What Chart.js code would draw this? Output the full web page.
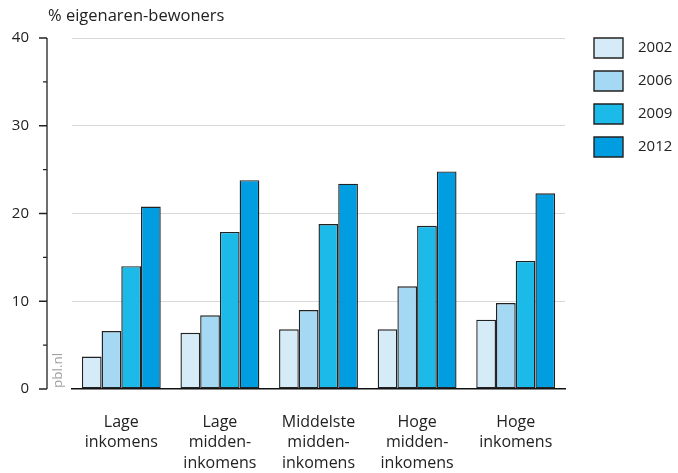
<!DOCTYPE html>
<html>
<head>
<meta charset="utf-8">
<script src="https://cdn.jsdelivr.net/npm/chart.js@4"></script>
<style>
  html, body { margin: 0; padding: 0; background: #fff; }
  #box { width: 678px; height: 473px; }
</style>
</head>
<body>
<div id="box"><canvas id="myChart"></canvas></div>
<script>
const categories = [
  ["Lage", "inkomens"],
  ["Lage", "midden-", "inkomens"],
  ["Middelste", "midden-", "inkomens"],
  ["Hoge", "midden-", "inkomens"],
  ["Hoge", "inkomens"],
];
const years = ["2002", "2006", "2009", "2012"];
const values2002 = [3.7, 6.4, 6.8, 6.8, 7.9];
const values2006 = [6.6, 8.4, 9.0, 11.7, 9.8];
const values2009 = [14.0, 17.9, 18.8, 18.6, 14.6];
const values2012 = [20.8, 23.8, 23.4, 24.8, 22.3];
const yTicks = [0, 10, 20, 30, 40];
const yTitle = "% eigenaren-bewoners";

const colors = ["#d5ecf8", "#a5d9f3", "#1bbae8", "#009de0"];
const allValues = [values2002, values2006, values2009, values2012];
const fontFamily = "'Open Sans', sans-serif";

// y axis line with major/minor ticks sits left of the plot, plus the title and pbl.nl
const extras = {
  id: "extras",
  beforeLayout(chart) {
    const lg = chart.legend;
    if (lg && !lg._fixed) {
      const fit = lg.fit;
      lg.fit = function () {
        fit.call(this);
        this.width = 113;
      };
      lg._fixed = true;
    }
  },
  afterLayout(chart) {
    chart.legend.left += 16;
    chart.legend.top -= 13;
  },
  afterDraw(chart) {
    const ctx = chart.ctx;
    const y = chart.scales.y;
    const ax = 47;
    ctx.save();
    ctx.strokeStyle = "#222";
    ctx.lineWidth = 1.3;
    ctx.beginPath();
    ctx.moveTo(ax, y.getPixelForValue(40));
    ctx.lineTo(ax, y.getPixelForValue(0));
    for (let v = 0; v <= 40; v += 5) {
      const py = y.getPixelForValue(v);
      ctx.moveTo(ax, py);
      ctx.lineTo(v % 10 === 0 ? ax - 8 : ax - 4, py);
    }
    ctx.stroke();

    ctx.fillStyle = "#222";
    ctx.font = "16.5px " + fontFamily;
    ctx.textAlign = "left";
    ctx.textBaseline = "alphabetic";
    ctx.fillText(yTitle, 48, 21);

    ctx.translate(62, y.getPixelForValue(0) - 1);
    ctx.rotate(-Math.PI / 2);
    ctx.fillStyle = "#a0a0a0";
    ctx.font = "13.5px " + fontFamily;
    ctx.fillText("pbl.nl", 0, 0);
    ctx.restore();
  },
};

new Chart(document.getElementById("myChart"), {
  type: "bar",
  data: {
    labels: categories,
    datasets: years.map((yr, i) => ({
      label: yr,
      data: allValues[i],
      backgroundColor: colors[i],
      borderColor: "#222",
      borderWidth: 1.4,
      borderSkipped: false,
      categoryPercentage: 0.8,
      barPercentage: 1,
    })),
  },
  options: {
    responsive: true,
    maintainAspectRatio: false,
    animation: false,
    layout: { padding: { top: 38, right: 0, bottom: 0, left: 0 } },
    plugins: {
      legend: {
        position: "right",
        align: "start",
        labels: {
          boxWidth: 29,
          boxHeight: 20,
          padding: 13,
          color: "#222",
          font: { family: fontFamily, size: 15 },
          generateLabels(chart) {
            const items = Chart.defaults.plugins.legend.labels.generateLabels(chart);
            items.forEach((it) => { it.text = "\u2002" + it.text; });
            return items;
          },
        },
      },
      tooltip: { enabled: false },
    },
    scales: {
      x: {
        grid: { display: false },
        border: { display: true, color: "#111", width: 1.5 },
        ticks: {
          color: "#222",
          padding: 15,
          maxRotation: 0,
          autoSkip: false,
          font: { family: fontFamily, size: 16, lineHeight: 1.28 },
        },
        afterFit(scale) {
          scale.height = 84;
        },
      },
      y: {
        min: 0,
        max: 40,
        afterBuildTicks(scale) {
          scale.ticks = yTicks.map((v) => ({ value: v }));
        },
        border: { display: false },
        grid: {
          drawTicks: false,
          color: (c) => (c.tick && c.tick.value === 0 ? "rgba(0,0,0,0)" : "#d9d9d9"),
          lineWidth: 1,
        },
        ticks: {
          color: "#222",
          padding: 43,
          font: { family: fontFamily, size: 15 },
        },
        afterFit(scale) {
          scale.width = 72;
          scale.paddingTop = 0;
          scale.paddingBottom = 0;
        },
      },
    },
  },
  plugins: [extras],
});
</script>
</body>
</html>
